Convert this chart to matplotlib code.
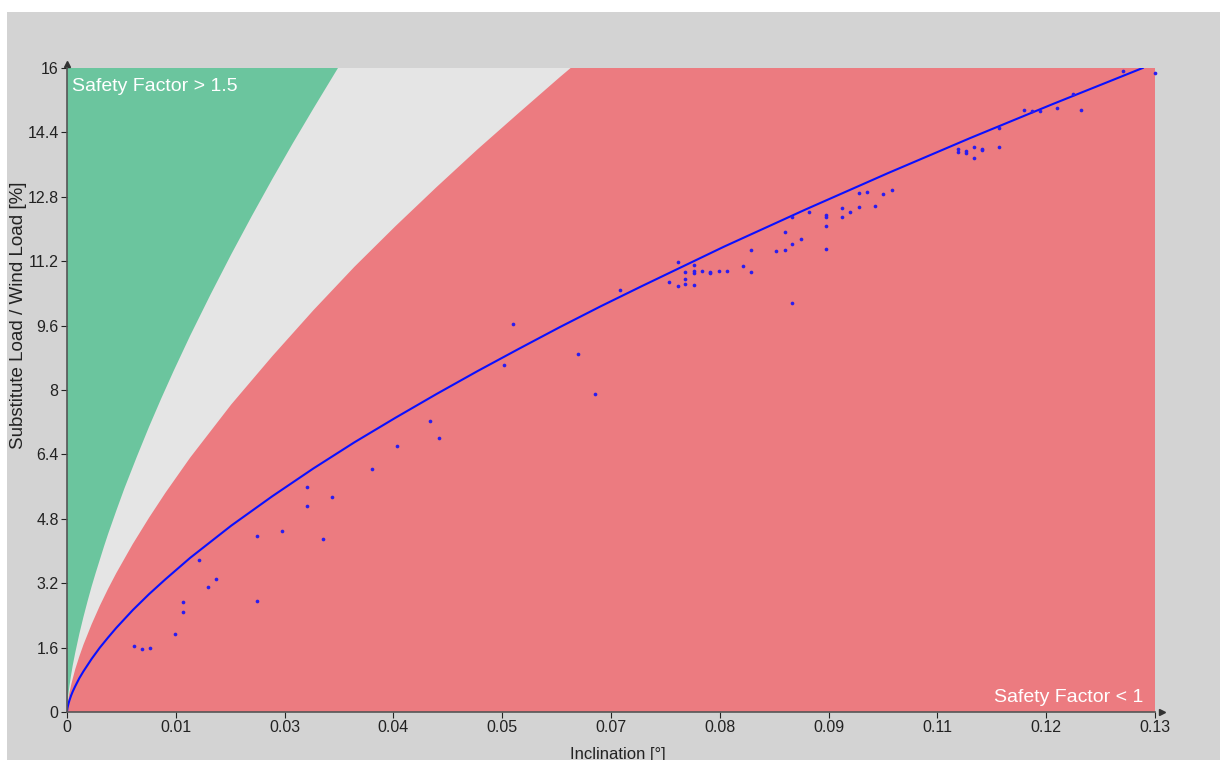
import numpy as np
import matplotlib.pyplot as plt
from matplotlib.patches import Rectangle

plt.rcParams['font.family'] = ['Liberation Sans', 'DejaVu Sans']

# fitted curve (blue line)
fit_x = [0, 0.00005, 0.0001, 0.0002, 0.0003, 0.0005, 0.0007, 0.001, 0.0015, 0.002,
         0.003, 0.004, 0.005, 0.006, 0.008, 0.01, 0.012, 0.015, 0.02, 0.025, 0.03,
         0.035, 0.04, 0.045, 0.05, 0.055, 0.06, 0.065, 0.07, 0.08, 0.09, 0.10,
         0.11, 0.12, 0.131]
fit_y = [0, 0.09, 0.14, 0.22, 0.29, 0.41, 0.51, 0.64, 0.84, 1.01,
         1.32, 1.60, 1.85, 2.09, 2.53, 2.93, 3.30, 3.83, 4.63, 5.36, 6.05,
         6.70, 7.31, 7.90, 8.47, 9.02, 9.56, 10.08, 10.58, 11.56, 12.49, 13.39,
         14.26, 15.10, 16.0]

# boundary safety factor = 1 (red / grey)
sf1_x = [0, 0.0001, 0.0002, 0.0003, 0.0005, 0.0007, 0.001, 0.0015, 0.002, 0.003,
         0.004, 0.005, 0.006, 0.008, 0.01, 0.012, 0.015, 0.02, 0.025, 0.03, 0.035,
         0.04, 0.045, 0.05, 0.055, 0.06, 0.065, 0.07]
sf1_y = [0, 0.23, 0.37, 0.48, 0.67, 0.83, 1.06, 1.38, 1.67, 2.18,
         2.64, 3.06, 3.45, 4.17, 4.83, 5.45, 6.32, 7.64, 8.84, 9.98, 11.06,
         12.07, 13.04, 13.98, 14.88, 15.77, 16.63, 17.46]

# boundary safety factor = 1.5 (grey / green)
sf15_x = [0, 0.0001, 0.0002, 0.0003, 0.0005, 0.0007, 0.001, 0.0015, 0.002, 0.0025,
          0.003, 0.0035, 0.0045, 0.005, 0.006, 0.007, 0.0085, 0.01, 0.0115, 0.013,
          0.015, 0.0175, 0.02, 0.0225, 0.025, 0.0275, 0.03, 0.033, 0.04]
sf15_y = [0, 0.31, 0.49, 0.65, 0.92, 1.16, 1.47, 1.94, 2.36, 2.75,
          3.12, 3.46, 4.11, 4.42, 5.00, 5.56, 6.34, 7.09, 7.80, 8.48,
          9.35, 10.38, 11.37, 12.32, 13.24, 14.13, 14.99, 16.0, 18.24]

# measurements
incl = [0.00812, 0.00913, 0.01015, 0.01315, 0.01417, 0.01417, 0.01612, 0.01713,
        0.01815, 0.02314, 0.02314, 0.02618, 0.02919, 0.02919, 0.03122, 0.03223,
        0.03718, 0.04023, 0.04425, 0.04526, 0.05326, 0.05427, 0.06227, 0.0643,
        0.06735, 0.07334, 0.07435, 0.07435, 0.07531, 0.07531, 0.07531, 0.07632,
        0.07632, 0.07632, 0.07632, 0.07733, 0.07833, 0.07833, 0.07938, 0.08039,
        0.08236, 0.08336, 0.08336, 0.08638, 0.08739, 0.08739, 0.08835, 0.08835,
        0.08835, 0.0894, 0.09036, 0.09238, 0.09238, 0.09238, 0.09238, 0.09439,
        0.09439, 0.0954, 0.0964, 0.0964, 0.09738, 0.09843, 0.09943, 0.10043,
        0.10845, 0.10845, 0.10945, 0.10945, 0.11046, 0.11046, 0.11147, 0.11147,
        0.11348, 0.11348, 0.1165, 0.1175, 0.11851, 0.12052, 0.12254, 0.12354,
        0.12858, 0.13248]
load = [1.64, 1.56, 1.60, 1.94, 2.49, 2.73, 3.78, 3.11,
        3.30, 2.75, 4.37, 4.50, 5.58, 5.13, 4.30, 5.34,
        6.03, 6.60, 7.22, 6.81, 8.63, 9.65, 8.90, 7.90,
        10.48, 10.68, 11.18, 10.59, 10.93, 10.75, 10.63, 11.11,
        10.96, 10.91, 10.61, 10.95, 10.93, 10.90, 10.95, 10.95,
        11.08, 11.47, 10.92, 11.46, 11.93, 11.47, 12.29, 11.62,
        10.16, 11.74, 12.43, 12.36, 12.31, 12.08, 11.50, 12.52,
        12.30, 12.41, 12.89, 12.55, 12.93, 12.58, 12.88, 12.96,
        13.99, 13.91, 13.95, 13.88, 14.04, 13.76, 14.00, 13.96,
        14.03, 14.50, 14.95, 14.94, 14.93, 15.00, 15.35, 14.96,
        15.93, 15.88]

x_max = 0.1325
x_labels = ['0', '0.01', '0.03', '0.04', '0.05', '0.07', '0.08', '0.09', '0.11', '0.12', '0.13']
y_ticks = [0, 1.6, 3.2, 4.8, 6.4, 8, 9.6, 11.2, 12.8, 14.4, 16]

fig = plt.figure(figsize=(12.2, 7.6), dpi=100, facecolor='white')
fig.add_artist(Rectangle((7 / 1220, 0), 1 - 7 / 1220, 1 - 12 / 760,
                         transform=fig.transFigure, facecolor='#d3d3d3',
                         edgecolor='none', zorder=-10))

ax = fig.add_axes([67 / 1220, 1 - 712 / 760, (1155 - 67) / 1220, (712 - 68) / 760])
ax.set_facecolor('#ec7b80')

ax.fill_between(sf1_x, sf1_y, 25, color='#e5e5e5', lw=0)
ax.fill_between(sf15_x, sf15_y, 25, color='#6bc59e', lw=0)
ax.plot(fit_x, fit_y, color='#0a10ff', lw=1.5)
ax.scatter(incl, load, s=7, color='#2a1cf0', zorder=3, linewidths=0, clip_on=False)

ax.set_xlim(0, x_max)
ax.set_ylim(0, 16)
ax.set_xticks(np.linspace(0, x_max, 11))
ax.set_xticklabels(x_labels)
ax.set_yticks(y_ticks)
ax.set_yticklabels(['%g' % v for v in y_ticks])
ax.tick_params(labelsize=11.5, colors='#222222', length=4, width=0.8, pad=2)

for s in ['top', 'right']:
    ax.spines[s].set_visible(False)
for s in ['left', 'bottom']:
    ax.spines[s].set_color('#555555')
    ax.spines[s].set_linewidth(1.2)

# small arrows at axis ends
ax.plot([1.006], [0], marker='>', ms=4, color='#333333', transform=ax.transAxes, clip_on=False)
ax.plot([0], [1.006], marker='^', ms=4, color='#333333', transform=ax.transAxes, clip_on=False)

ax.text(0.005, 0.985, 'Safety Factor > 1.5', transform=ax.transAxes, color='white',
        fontsize=14, ha='left', va='top')
ax.text(0.989, 0.01, 'Safety Factor < 1', transform=ax.transAxes, color='white',
        fontsize=14, ha='right', va='bottom')

fig.text(618 / 1220, 1 - 754 / 760, 'Inclination [°]', ha='center', va='center',
         fontsize=12, color='#222222')
fig.text(19 / 1220, 1 - 315 / 760, 'Substitute Load / Wind Load [%]', ha='center',
         va='center', rotation=90, fontsize=13.5, color='#222222')

fig.savefig('out.png', dpi=100, facecolor='white')
